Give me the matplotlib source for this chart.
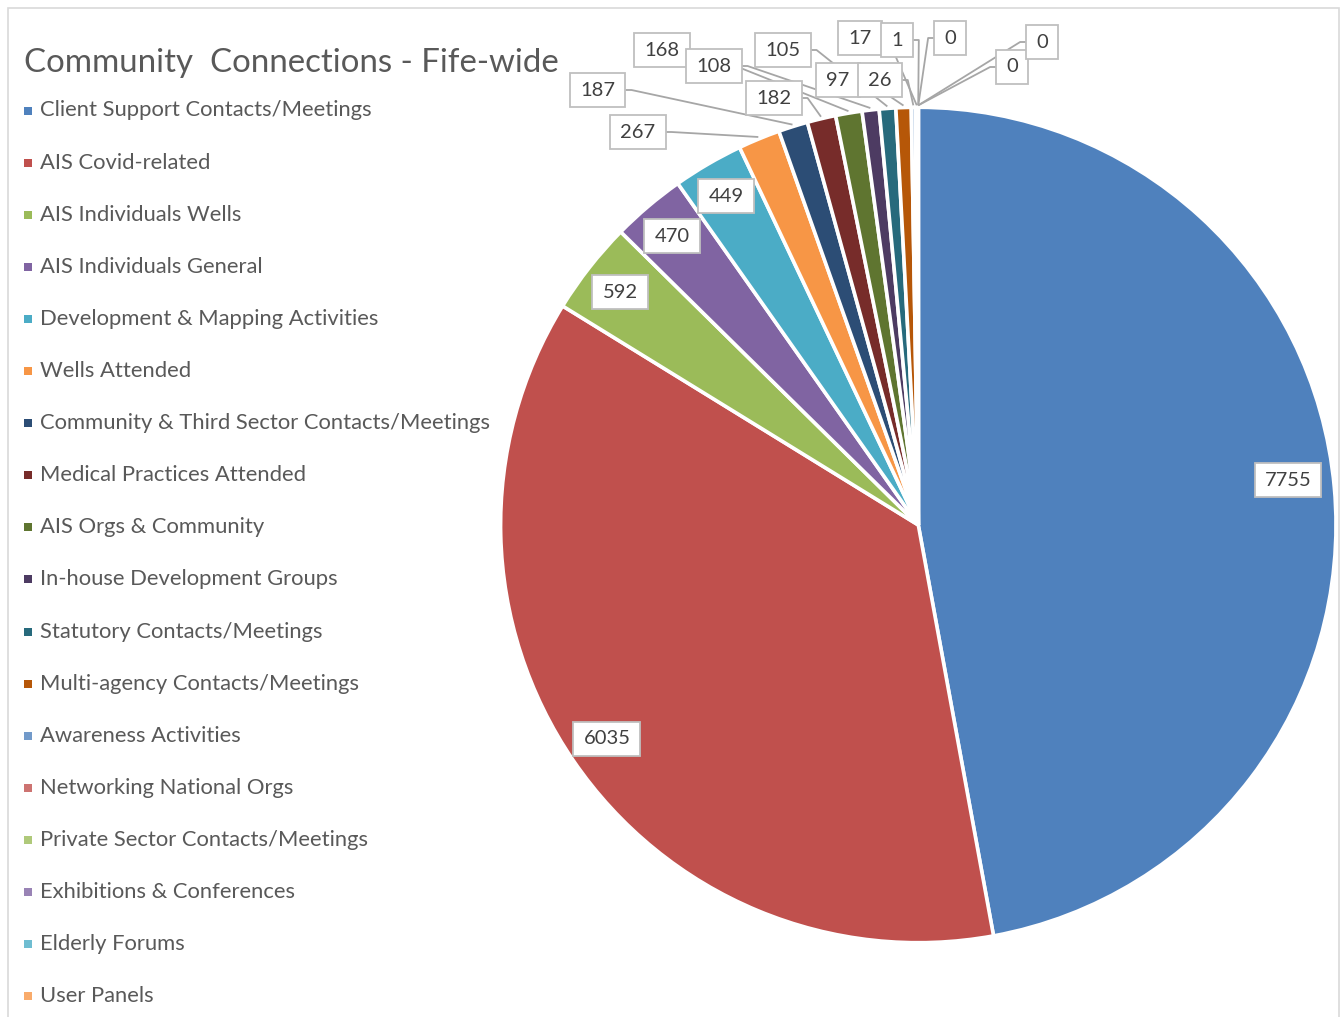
import matplotlib
matplotlib.use("Agg")
import matplotlib.pyplot as plt
from matplotlib.patches import Rectangle
import numpy as np

# ---- data -------------------------------------------------------------
categories = [
    "Client Support Contacts/Meetings",
    "AIS Covid-related",
    "AIS Individuals Wells",
    "AIS Individuals General",
    "Development & Mapping Activities",
    "Wells Attended",
    "Community & Third Sector Contacts/Meetings",
    "Medical Practices Attended",
    "AIS Orgs & Community",
    "In-house Development Groups",
    "Statutory Contacts/Meetings",
    "Multi-agency Contacts/Meetings",
    "Awareness Activities",
    "Networking National Orgs",
    "Private Sector Contacts/Meetings",
    "Exhibitions & Conferences",
    "Elderly Forums",
    "User Panels",
]
values = [7755, 6035, 592, 470, 449, 267, 187, 182, 168, 108, 105, 97,
          26, 17, 1, 0, 0, 0]
colors = ["#4F81BD", "#C0504D", "#9BBB59", "#8064A2", "#4BACC6", "#F79646",
          "#2C4D75", "#772C2A", "#5F7530", "#4D3B62", "#276A7C", "#B65708",
          "#729ACA", "#CD7371", "#AFC97A", "#9983B5", "#6FBDD1", "#F9AB6B"]
title = "Community  Connections - Fife-wide"

# ---- layout (pixel space, y measured from the top) --------------------
W, H = 1341, 1017
CX, CY, R = 918.3, 525, 417.7
# label box centres
label_xy = [(1288, 480), (607, 739), (620, 292), (672, 236), (726, 196),
            (638, 132), (598, 90), (774, 98), (662, 50), (714, 66),
            (783, 50), (838, 80), (880, 80), (860, 38), (897, 40),
            (950, 38), (1012, 67), (1042, 42)]
inside = [True] * 5 + [False] * 13

FONT = ["Lato", "DejaVu Sans"]
TXT = "#595959"

fig = plt.figure(figsize=(W / 100, H / 100), dpi=100)
ax = fig.add_axes([0, 0, 1, 1])


def Y(y):
    return H - y


wedges, _ = ax.pie(values, colors=colors, startangle=90, counterclock=False,
                   center=(CX, Y(CY)), radius=R,
                   wedgeprops=dict(edgecolor="white", linewidth=2.6))
ax.set_xlim(0, W)
ax.set_ylim(0, H)
ax.set_aspect("equal")
ax.axis("off")

# chart frame
ax.add_patch(Rectangle((8, Y(1030)), W - 10, 1030 - 8, fill=False,
                       edgecolor="#d9d9d9", linewidth=1.2))

# title
ax.text(24, Y(63), title, fontsize=23.8, color=TXT, family=FONT,
        ha="left", va="center")

# legend
for i, (name, col) in enumerate(zip(categories, colors)):
    ly = 110.5 + i * 52.1
    ax.add_patch(Rectangle((24, Y(ly) - 4), 8, 8, color=col, linewidth=0))
    ax.text(40, Y(ly), name, fontsize=15.8, color=TXT, family=FONT,
            ha="left", va="center")

# data labels with framed boxes and leader lines
renderer = fig.canvas.get_renderer()
total = float(sum(values))
BOX_H = 34
PAD_X = 10
cum = 0.0
for v, (lx, lyy), ins in zip(values, label_xy, inside):
    mid = cum + v / 2.0
    cum += v
    ang = np.deg2rad(90 - 360.0 * mid / total)
    px = CX + (R + 2) * np.cos(ang)
    py = CY - (R + 2) * np.sin(ang)
    t = ax.text(lx, Y(lyy), f"{v}", fontsize=14.5, color="#404040",
                family=FONT, ha="center", va="center", zorder=6)
    tw = t.get_window_extent(renderer).width
    bw = tw + 2 * PAD_X
    ax.add_patch(Rectangle((lx - bw / 2, Y(lyy) - BOX_H / 2), bw, BOX_H,
                           facecolor="white", edgecolor="#bfbfbf",
                           linewidth=1.3, zorder=5))
    if not ins:
        if px >= lx:
            sx = lx + bw / 2
            ex = sx + 6
        else:
            sx = lx - bw / 2
            ex = sx - 6
        ax.plot([sx, ex, px], [Y(lyy), Y(lyy), Y(py)], color="#a6a6a6",
                linewidth=1.3, zorder=4, solid_capstyle="butt")

fig.savefig("out.png", dpi=100)
